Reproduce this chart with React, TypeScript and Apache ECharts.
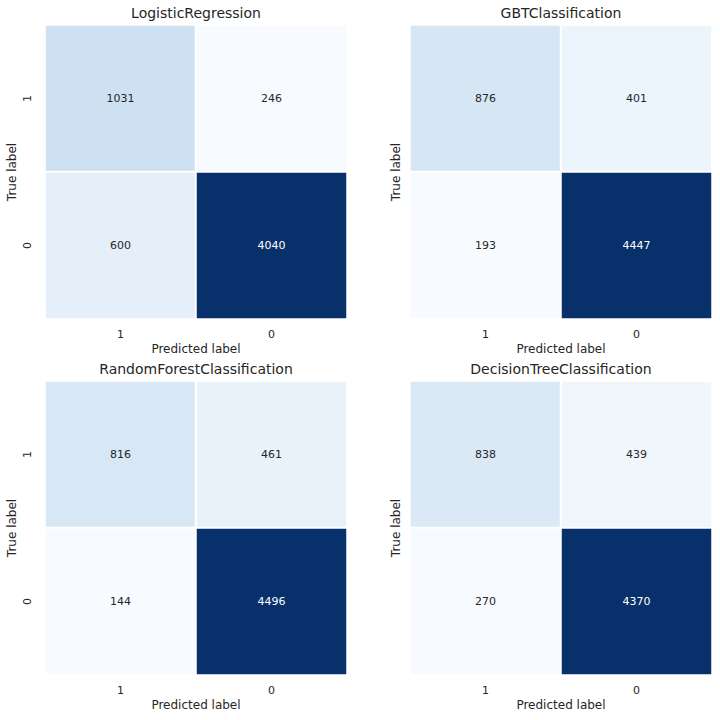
import React, { useEffect, useRef } from "react";
import * as echarts from "echarts";

const modelNames = [
  "LogisticRegression",
  "GBTClassification",
  "RandomForestClassification",
  "DecisionTreeClassification",
];
const predictedLabels = ["1", "0"];
const trueLabels = ["0", "1"]; // bottom to top
// rows: true 1, true 0 ; columns: predicted 1, predicted 0
const logisticMatrix = [
  [1031, 246],
  [600, 4040],
];
const gbtMatrix = [
  [876, 401],
  [193, 4447],
];
const randomForestMatrix = [
  [816, 461],
  [144, 4496],
];
const decisionTreeMatrix = [
  [838, 439],
  [270, 4370],
];
const matrices = [logisticMatrix, gbtMatrix, randomForestMatrix, decisionTreeMatrix];

const BLUES = [
  "#f7fbff",
  "#deebf7",
  "#c6dbef",
  "#9ecae1",
  "#6baed6",
  "#4292c6",
  "#2171b5",
  "#08519c",
  "#08306b",
];

const TEXT = "#262626";
const FONT = "DejaVu Sans";

export default function App() {
  const ref = useRef<HTMLDivElement>(null);
  useEffect(() => {
    document.body.style.margin = "0";
    const chart = echarts.init(ref.current!, null, { renderer: "svg" });
    const grids = [
      { left: 45, top: 25, width: 302, height: 294 },
      { left: 410, top: 25, width: 302, height: 294 },
      { left: 45, top: 381, width: 302, height: 294 },
      { left: 410, top: 381, width: 302, height: 294 },
    ];
    const titles = grids.map((g, i) => ({
      text: modelNames[i],
      left: g.left + g.width / 2,
      top: g.top - 19,
      padding: 0,
      textAlign: "center",
      textStyle: { fontFamily: FONT, fontSize: 14, fontWeight: "normal", color: TEXT },
    }));
    const xAxes = grids.map((_, i) => ({
      type: "category",
      gridIndex: i,
      data: predictedLabels,
      name: "Predicted label",
      nameLocation: "middle",
      nameGap: 24,
      nameTextStyle: { fontFamily: FONT, fontSize: 12, color: TEXT },
      axisLine: { show: false },
      axisTick: { show: false },
      splitLine: { show: false },
      axisLabel: { fontFamily: FONT, fontSize: 11, color: TEXT, margin: 10 },
    }));
    const yAxes = grids.map((_, i) => ({
      type: "category",
      gridIndex: i,
      data: trueLabels,
      name: "True label",
      nameLocation: "middle",
      nameRotate: 90,
      nameGap: i % 2 === 0 ? 27 : 8,
      nameTextStyle: { fontFamily: FONT, fontSize: 12, color: TEXT },
      axisLine: { show: false },
      axisTick: { show: false },
      splitLine: { show: false },
      axisLabel: {
        show: i % 2 === 0,
        rotate: 90,
        fontFamily: FONT,
        fontSize: 11,
        color: TEXT,
        margin: 12,
      },
    }));
    const visualMaps = matrices.map((m, i) => {
      const flat = m.flat();
      return {
        type: "continuous",
        show: false,
        seriesIndex: i,
        min: Math.min(...flat),
        max: Math.max(...flat),
        inRange: { color: BLUES },
      };
    });
    const series = matrices.map((m, i) => {
      const flat = m.flat();
      const mn = Math.min(...flat);
      const mx = Math.max(...flat);
      const data: any[] = [];
      m.forEach((row, r) => {
        row.forEach((v, c) => {
          const t = (v - mn) / (mx - mn);
          data.push({
            value: [c, r === 0 ? 1 : 0, v],
            label: { color: t > 0.55 ? "#ffffff" : TEXT },
          });
        });
      });
      return {
        type: "heatmap",
        xAxisIndex: i,
        yAxisIndex: i,
        data,
        label: { show: true, fontFamily: FONT, fontSize: 11 },
        itemStyle: { borderColor: "#ffffff", borderWidth: 2 },
        emphasis: { disabled: true },
      };
    });
    chart.setOption({
      animation: false,
      backgroundColor: "#ffffff",
      title: titles,
      grid: grids,
      xAxis: xAxes,
      yAxis: yAxes,
      visualMap: visualMaps,
      series,
    });
    return () => chart.dispose();
  }, []);
  return <div ref={ref} style={{ width: 720, height: 720 }} />;
}
